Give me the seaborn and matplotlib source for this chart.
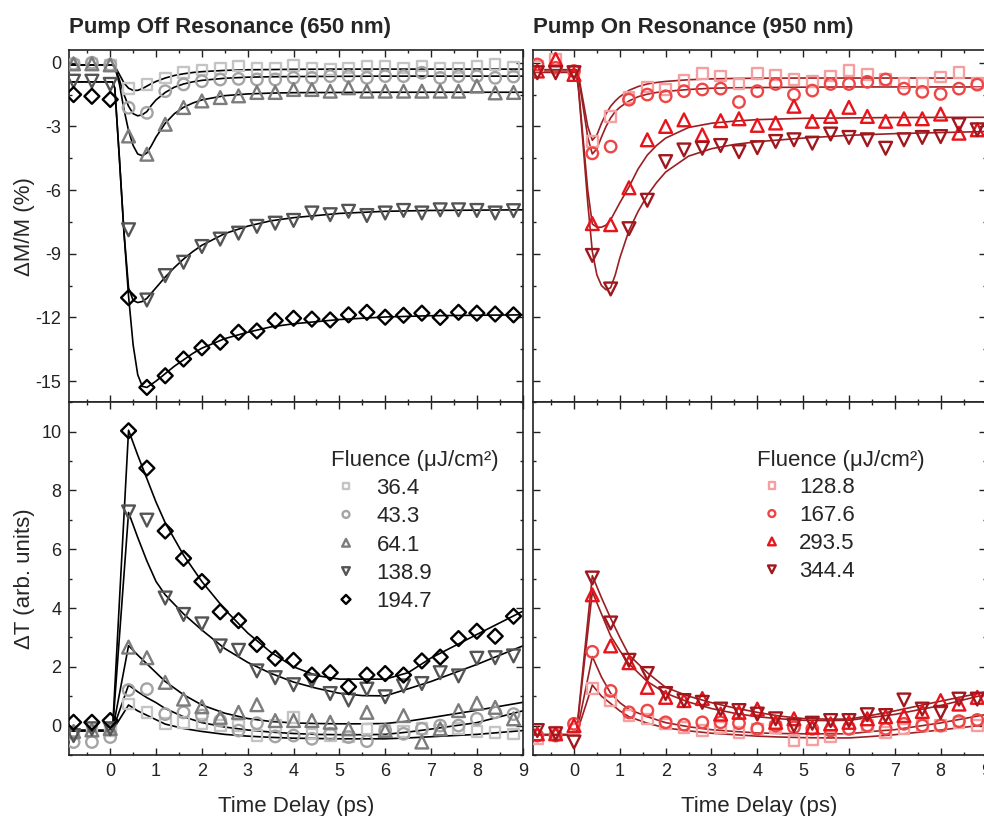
import numpy as np
import pandas as pd
import matplotlib
matplotlib.use("Agg")
import matplotlib.pyplot as plt
from matplotlib.ticker import MultipleLocator
import seaborn as sns

sns.set_theme(style="ticks")
plt.rcParams["font.family"] = ["Liberation Sans", "DejaVu Sans"]
plt.rcParams["axes.unicode_minus"] = False

# time delay of the measured points (ps)
delay = [-0.8, -0.4, 0.0, 0.4, 0.8, 1.2, 1.6, 2.0, 2.4, 2.8, 3.2, 3.6, 4.0,
         4.4, 4.8, 5.2, 5.6, 6.0, 6.4, 6.8, 7.2, 7.6, 8.0, 8.4, 8.8]

# fluences (uJ/cm2)
fluence_off = ["36.4", "43.3", "64.1", "138.9", "194.7"]
fluence_on = ["128.8", "167.6", "293.5", "344.4"]

# ---- pump off resonance, dM/M (%) ----
dm_off_364 = [-0.1, -0.05, -0.1, -1.2, -1.02, -0.71, -0.47, -0.35, -0.28, -0.16, -0.28, -0.28, -0.12,
              -0.24, -0.32, -0.24, -0.16, -0.16, -0.24, -0.16, -0.24, -0.24, -0.16, -0.08, -0.2]
dm_off_433 = [-0.05, 0.0, -0.1, -2.12, -2.36, -1.34, -1.02, -0.87, -0.79, -0.76, -0.79, -0.79, -0.71,
              -0.71, -0.63, -0.63, -0.71, -0.63, -0.63, -0.47, -0.71, -0.63, -0.63, -0.71, -0.65]
dm_off_641 = [-0.05, -0.05, -0.1, -3.45, -4.31, -2.9, -2.11, -1.8, -1.64, -1.56, -1.4, -1.4, -1.26,
              -1.26, -1.34, -1.18, -1.34, -1.34, -1.34, -1.34, -1.34, -1.34, -1.1, -1.42, -1.4]
dm_off_1389 = [-0.87, -0.87, -1.02, -7.87, -11.18, -10.03, -9.4, -8.66, -8.31, -8.03, -7.71, -7.56, -7.43,
               -7.08, -7.16, -7.0, -7.2, -7.08, -6.96, -7.08, -6.93, -6.93, -6.96, -7.08, -6.97]
dm_off_1947 = [-1.5, -1.58, -1.73, -11.07, -15.3, -14.75, -13.96, -13.43, -13.17, -12.7, -12.64, -12.15, -12.04,
               -12.08, -12.12, -11.88, -11.76, -11.99, -11.9, -11.8, -12.0, -11.76, -11.8, -11.84, -11.88]

# ---- pump on resonance, dM/M (%) ----
dm_on_1288 = [-0.16, 0.16, -0.39, -3.71, -2.53, -1.63, -1.15, -1.26, -0.84, -0.52, -0.63, -1.0, -0.52,
              -0.58, -0.79, -0.87, -0.63, -0.36, -0.55, -0.79, -0.95, -0.95, -0.68, -0.47, -0.95]
dm_on_1676 = [-0.08, -0.24, -0.39, -4.27, -3.95, -1.74, -1.5, -1.58, -1.34, -1.26, -1.22, -1.85, -1.34,
              -1.0, -1.5, -1.31, -1.0, -1.0, -0.9, -0.79, -1.22, -1.37, -1.47, -1.22, -1.03]
dm_on_2935 = [-0.39, 0.16, -0.55, -7.58, -7.63, -5.89, -3.63, -3.0, -2.69, -3.4, -2.73, -2.64, -2.95,
              -2.84, -2.05, -2.76, -2.53, -2.1, -2.53, -2.76, -2.64, -2.64, -2.42, -3.32, -3.16]
dm_on_3444 = [-0.47, -0.47, -0.47, -9.08, -10.66, -7.82, -6.48, -4.66, -4.11, -4.03, -3.9, -4.19, -4.0,
              -3.71, -3.63, -3.79, -3.36, -3.52, -3.63, -4.03, -3.63, -3.52, -3.48, -2.92, -3.16]

# ---- pump off resonance, dT (arb. units) ----
dt_off_364 = [-0.28, -0.17, -0.17, 0.73, 0.45, 0.08, 0.11, 0.06, 0.0, 0.0, -0.34, 0.0, 0.28,
              -0.28, -0.34, -0.39, -0.11, -0.17, -0.2, -0.1, -0.15, -0.1, -0.2, -0.23, -0.28]
dt_off_433 = [-0.56, -0.56, -0.39, 1.21, 1.24, 0.39, 0.45, 0.34, 0.17, -0.17, 0.08, -0.37, -0.34,
              -0.45, -0.28, -0.39, -0.53, -0.17, -0.28, -0.11, 0.0, 0.0, 0.23, 0.45, 0.39]
dt_off_641 = [-0.2, -0.15, -0.1, 2.67, 2.31, 1.47, 0.9, 0.64, 0.28, 0.45, 0.71, 0.17, 0.17,
              0.17, 0.11, -0.11, 0.45, -0.17, 0.34, -0.56, -0.11, 0.51, 0.76, 0.62, 0.23]
dt_off_1389 = [-0.34, -0.11, -0.11, 7.27, 6.99, 4.34, 3.78, 3.46, 2.71, 2.56, 1.86, 1.63, 1.39,
               1.52, 1.09, 0.87, 1.24, 0.98, 1.35, 1.43, 1.8, 1.69, 2.29, 2.31, 2.37]
dt_off_1947 = [0.11, 0.11, 0.17, 10.03, 8.76, 6.62, 5.69, 4.9, 3.87, 3.57, 2.76, 2.29, 2.22,
               1.72, 1.8, 1.32, 1.72, 1.77, 1.72, 2.2, 2.33, 2.96, 3.21, 3.04, 3.72]

# ---- pump on resonance, dT (arb. units) ----
dt_on_1288 = [-0.45, -0.23, -0.11, 1.27, 0.85, 0.34, 0.23, 0.06, -0.06, -0.17, -0.06, -0.23, -0.11,
              -0.06, -0.51, -0.48, -0.39, -0.11, 0.0, -0.23, -0.11, 0.0, 0.0, 0.11, 0.0]
dt_on_1676 = [-0.34, -0.34, 0.06, 2.51, 1.18, 0.45, 0.51, 0.11, 0.03, 0.11, 0.11, 0.08, -0.11,
              0.0, -0.06, -0.11, -0.17, -0.11, 0.0, -0.11, 0.06, 0.0, 0.0, 0.15, 0.19]
dt_on_2935 = [-0.28, -0.28, 0.0, 4.45, 2.71, 2.14, 1.3, 0.96, 0.85, 0.92, 0.39, 0.45, 0.56,
              0.11, 0.23, -0.06, 0.06, 0.11, 0.23, 0.3, 0.34, 0.48, 0.85, 0.73, 0.96]
dt_on_3444 = [-0.17, -0.28, -0.56, 5.02, 3.49, 2.22, 1.77, 1.09, 0.85, 0.79, 0.56, 0.51, 0.39,
              0.23, 0.0, 0.08, 0.17, 0.17, 0.37, 0.34, 0.87, 0.56, 0.45, 0.9, 0.9]

# ---- fit curves ----
fit_t_top = [-0.9, 0.05, 0.1, 0.2, 0.3, 0.4, 0.5, 0.6, 0.7, 0.8, 0.9, 1.0, 1.2,
             1.4, 1.6, 1.8, 2.0, 2.5, 3.0, 3.5, 4.0, 5.0, 6.0, 7.0, 9.0]
fit_dm_off = [
    [-0.1, -0.1, -0.15, -0.55, -0.95, -1.2, -1.3, -1.3, -1.22, -1.1, -0.98, -0.88, -0.72,
     -0.6, -0.52, -0.46, -0.42, -0.36, -0.33, -0.32, -0.31, -0.3, -0.3, -0.3, -0.3],
    [-0.1, -0.1, -0.2, -0.8, -1.5, -2.05, -2.4, -2.5, -2.45, -2.3, -2.0, -1.75, -1.4,
     -1.15, -1.0, -0.9, -0.83, -0.73, -0.68, -0.66, -0.65, -0.64, -0.63, -0.63, -0.63],
    [-0.1, -0.1, -0.2, -1.0, -2.2, -3.2, -3.9, -4.3, -4.38, -4.25, -3.9, -3.5, -2.85,
     -2.4, -2.1, -1.9, -1.75, -1.55, -1.47, -1.43, -1.41, -1.4, -1.39, -1.39, -1.39],
    [-0.9, -0.9, -1.2, -4.5, -8.0, -10.6, -11.2, -11.3, -11.25, -11.1, -10.85, -10.6, -10.1,
     -9.65, -9.25, -8.9, -8.6, -8.05, -7.7, -7.45, -7.3, -7.1, -7.0, -6.96, -6.93],
    [-0.9, -0.9, -1.2, -4.5, -8.0, -11.0, -13.3, -14.7, -15.25, -15.3, -15.15, -15.0, -14.65,
     -14.3, -14.0, -13.7, -13.45, -13.0, -12.7, -12.45, -12.3, -12.1, -11.98, -11.92, -11.88],
]
fit_dm_on = [
    [-0.33, -0.33, -0.6, -1.8, -3.0, -3.65, -3.4, -2.85, -2.4, -2.05, -1.8, -1.6, -1.3,
     -1.12, -1.0, -0.93, -0.88, -0.8, -0.76, -0.74, -0.73, -0.72, -0.72, -0.72, -0.72],
    [-0.33, -0.33, -0.7, -2.1, -3.5, -4.3, -4.05, -3.5, -3.0, -2.6, -2.3, -2.1, -1.8,
     -1.6, -1.48, -1.4, -1.35, -1.26, -1.2, -1.18, -1.17, -1.15, -1.14, -1.14, -1.14],
    [-0.45, -0.45, -1.2, -3.6, -6.0, -7.6, -7.75, -7.75, -7.65, -7.4, -7.0, -6.6, -5.85,
     -5.0, -4.35, -3.9, -3.55, -3.05, -2.85, -2.75, -2.68, -2.62, -2.6, -2.58, -2.57],
    [-0.45, -0.45, -1.3, -3.9, -6.6, -8.9, -10.0, -10.5, -10.7, -10.6, -10.0, -9.2, -7.9,
     -7.0, -6.25, -5.65, -5.15, -4.4, -4.05, -3.85, -3.72, -3.55, -3.42, -3.34, -3.24],
]

fit_t_bot = [-0.9, 0.05, 0.4, 0.6, 0.8, 1.0, 1.2, 1.6, 2.0, 2.5, 3.0, 3.5, 4.0,
             4.5, 5.0, 5.5, 6.0, 6.5, 7.0, 8.0, 9.0]
fit_dt_off = [
    [-0.17, -0.17, 0.7, 0.5, 0.35, 0.2, 0.05, -0.1, -0.2, -0.3, -0.36, -0.4, -0.43,
     -0.44, -0.45, -0.45, -0.45, -0.42, -0.38, -0.3, -0.17],
    [-0.17, -0.17, 1.38, 1.15, 0.95, 0.78, 0.58, 0.3, 0.1, -0.05, -0.15, -0.22, -0.27,
     -0.3, -0.31, -0.31, -0.3, -0.22, -0.12, 0.1, 0.5],
    [-0.17, -0.17, 2.72, 2.4, 2.1, 1.8, 1.5, 1.05, 0.7, 0.42, 0.24, 0.14, 0.09,
     0.07, 0.06, 0.06, 0.07, 0.15, 0.27, 0.52, 0.79],
    [-0.17, -0.17, 7.25, 6.4, 5.6, 4.9, 4.45, 3.8, 3.25, 2.62, 2.15, 1.78, 1.48,
     1.27, 1.1, 1.02, 1.01, 1.25, 1.5, 2.08, 2.71],
    [-0.17, -0.17, 10.05, 9.2, 8.4, 7.6, 6.9, 5.8, 4.9, 3.95, 3.15, 2.5, 2.0,
     1.7, 1.58, 1.58, 1.58, 1.8, 2.3, 3.1, 3.89],
]
fit_dt_on = [
    [-0.31, -0.31, 1.38, 1.0, 0.75, 0.5, 0.3, 0.08, -0.08, -0.18, -0.26, -0.31, -0.36,
     -0.39, -0.41, -0.42, -0.42, -0.37, -0.31, -0.15, 0.03],
    [-0.31, -0.31, 2.35, 1.65, 1.1, 0.78, 0.55, 0.3, 0.1, -0.04, -0.14, -0.2, -0.25,
     -0.27, -0.28, -0.28, -0.28, -0.2, -0.14, 0.09, 0.38],
    [-0.31, -0.31, 4.55, 3.8, 3.05, 2.55, 2.1, 1.5, 1.1, 0.8, 0.58, 0.42, 0.3,
     0.23, 0.18, 0.17, 0.18, 0.28, 0.38, 0.68, 1.07],
    [-0.31, -0.31, 5.1, 4.35, 3.65, 3.0, 2.4, 1.8, 1.3, 1.0, 0.78, 0.6, 0.45,
     0.32, 0.24, 0.22, 0.22, 0.35, 0.5, 0.83, 1.15],
]

# styles
markers_off = ["s", "o", "^", "v", "D"]
sizes_off = [58, 68, 85, 85, 58]
colors_off = ["#c4c4c4", "#a4a4a4", "#7c7c7c", "#545454", "#000000"]
markers_on = ["s", "o", "^", "v"]
sizes_on = [58, 68, 85, 85]
colors_on = ["#f4a0a0", "#ee4646", "#e8141c", "#a0181e"]
fit_off_color = "#000000"
fit_on_color = "#9a1f22"

fig = plt.figure(figsize=(9.84, 8.16), dpi=100)
ax_tl = fig.add_axes([0.0701, 0.5070, 0.4611, 0.4317])
ax_tr = fig.add_axes([0.5414, 0.5070, 0.4611, 0.4317])
ax_bl = fig.add_axes([0.0701, 0.0748, 0.4611, 0.4322])
ax_br = fig.add_axes([0.5414, 0.0748, 0.4611, 0.4322])


def draw(ax, series, fits, fit_t, fit_color, markers, sizes, colors):
    handles = []
    for vals, fit, m, s, c in zip(series, fits, markers, sizes, colors):
        sns.lineplot(x=fit_t, y=fit, ax=ax, color=fit_color, linewidth=1.2, zorder=2)
        sns.scatterplot(x=delay, y=vals, ax=ax, marker=m, s=s, color=c,
                        facecolor="none", edgecolor=c, linewidth=1.7, zorder=3)
        handles.append(ax.collections[-1])
    return handles


dm_off = [dm_off_364, dm_off_433, dm_off_641, dm_off_1389, dm_off_1947]
dm_on = [dm_on_1288, dm_on_1676, dm_on_2935, dm_on_3444]
dt_off = [dt_off_364, dt_off_433, dt_off_641, dt_off_1389, dt_off_1947]
dt_on = [dt_on_1288, dt_on_1676, dt_on_2935, dt_on_3444]

draw(ax_tl, dm_off, fit_dm_off, fit_t_top, fit_off_color, markers_off, sizes_off, colors_off)
draw(ax_tr, dm_on, fit_dm_on, fit_t_top, fit_on_color, markers_on, sizes_on, colors_on)
h_off = draw(ax_bl, dt_off, fit_dt_off, fit_t_bot, fit_off_color, markers_off, sizes_off, colors_off)
h_on = draw(ax_br, dt_on, fit_dt_on, fit_t_bot, fit_on_color, markers_on, sizes_on, colors_on)

# axes limits / ticks
for ax in [ax_tl, ax_tr]:
    ax.set_ylim(-16, 0.6)
    ax.yaxis.set_major_locator(MultipleLocator(3))
    ax.yaxis.set_minor_locator(MultipleLocator(1.5))
for ax in [ax_bl, ax_br]:
    ax.set_ylim(-1, 11)
    ax.yaxis.set_major_locator(MultipleLocator(2))
    ax.yaxis.set_minor_locator(MultipleLocator(1))

for ax in [ax_tl, ax_tr, ax_bl, ax_br]:
    ax.set_xlim(-0.9, 9)
    ax.xaxis.set_major_locator(MultipleLocator(1))
    ax.xaxis.set_minor_locator(MultipleLocator(0.5))
    ax.tick_params(which="both", direction="in", top=True, right=True, pad=5.5,
                   width=1.0, labelsize=13, colors="#222222", labelcolor="#222222")
    ax.tick_params(which="major", length=5)
    ax.tick_params(which="minor", length=2.5)
    for sp in ax.spines.values():
        sp.set_linewidth(1.2)
        sp.set_color("#222222")
    ax.set_xlabel("")
    ax.set_ylabel("")

ax_tl.tick_params(labelbottom=False)
ax_tr.tick_params(labelbottom=False, labelleft=False)
ax_br.tick_params(labelleft=False)

ax_tl.set_ylabel("\u0394M/M (%)", fontsize=16)
ax_bl.set_ylabel("\u0394T (arb. units)", fontsize=16)
ax_tl.yaxis.set_label_coords(-0.075, 0.5)
ax_bl.yaxis.set_label_coords(-0.075, 0.5)
ax_bl.set_xlabel("Time Delay (ps)", fontsize=16, labelpad=12)
ax_br.set_xlabel("Time Delay (ps)", fontsize=16, labelpad=12)

ax_tl.set_title("Pump Off Resonance (650 nm)", loc="left", fontsize=16,
                fontweight="bold", pad=12)
ax_tr.set_title("Pump On Resonance (950 nm)", loc="left", fontsize=16,
                fontweight="bold", pad=12)

legend_title = "Fluence (\u03bcJ/cm\u00b2)"
ax_bl.legend(h_off, fluence_off, title=legend_title, loc="upper left",
             bbox_to_anchor=(0.5775, 0.866), frameon=False, fontsize=16,
             title_fontsize=16, alignment="left", markerscale=0.6,
             scatterpoints=1, scatteryoffsets=[0.5], handlelength=1.35,
             handletextpad=0.7, labelspacing=0.33, borderpad=0, borderaxespad=0)
ax_br.legend(h_on, fluence_on, title=legend_title, loc="upper left",
             bbox_to_anchor=(0.494, 0.866), frameon=False, fontsize=16,
             title_fontsize=16, alignment="left", markerscale=0.6,
             scatterpoints=1, scatteryoffsets=[0.5], handlelength=1.35,
             handletextpad=0.55, labelspacing=0.31, borderpad=0, borderaxespad=0)

fig.savefig("out.png", dpi=100)
